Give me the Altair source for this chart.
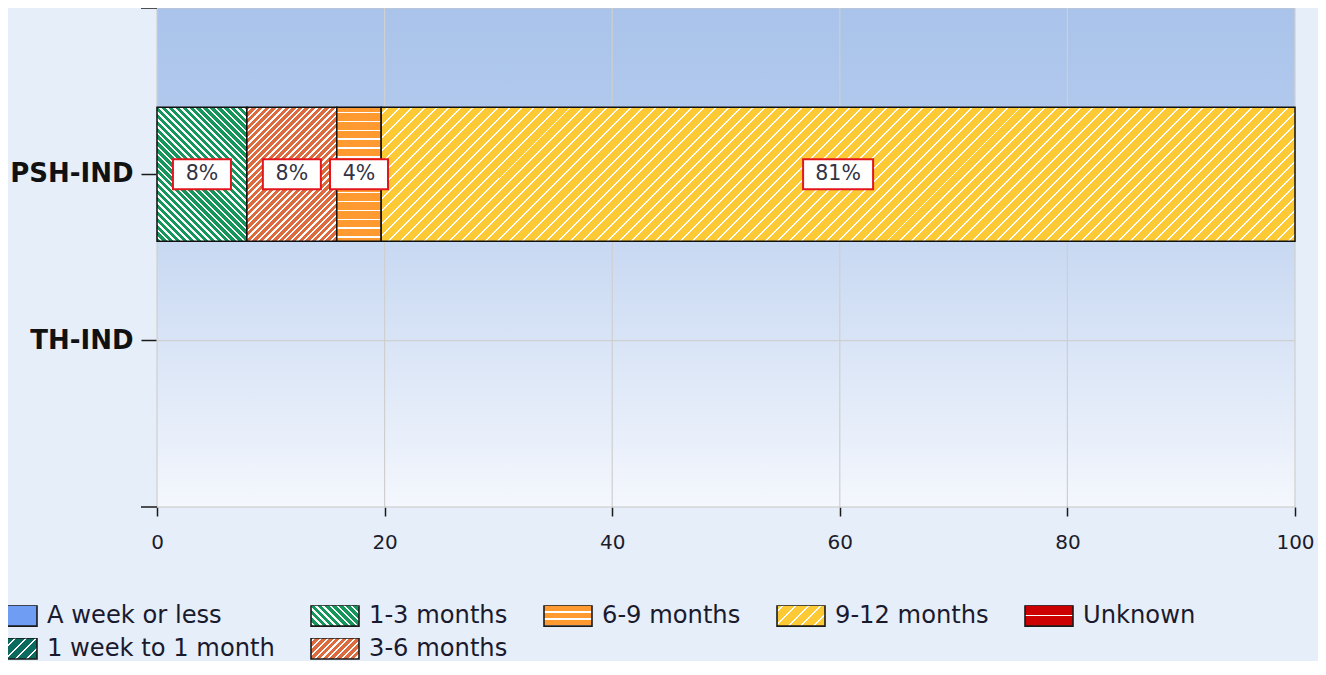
import altair as alt
import pandas as pd

# ---------------- data ----------------
categories = ["PSH-IND", "TH-IND"]
legend_order = ["A week or less", "1-3 months", "6-9 months", "9-12 months",
                "Unknown", "1 week to 1 month", "3-6 months"]
legend_colors = ["#6f9df3", "#16965a", "#ff9a30", "#fdca35",
                 "#cc0000", "#0b6b5f", "#dc6b3f"]
bar_category = ["PSH-IND", "PSH-IND", "PSH-IND", "PSH-IND"]
bar_duration = ["1-3 months", "3-6 months", "6-9 months", "9-12 months"]
bar_percent = [7.9, 7.9, 3.9, 80.3]
bar_label = ["8%", "8%", "4%", "81%"]
x_ticks = [0, 20, 40, 60, 80, 100]

# ---------------- layout / style ----------------
W, H = 1138, 499
PAD_IN, PAD_OUT = 0.194, 0.597
STEP = H / (2 - PAD_IN + 2 * PAD_OUT)
BAND = STEP * (1 - PAD_IN)
PX = W / 100.0
FONT = "DejaVu Sans"

# pattern styles: base, line colour, direction, period(px), line width(px)
BAR_PATTERN = {
    "1 week to 1 month": ("#0b6b5f", "#ffffff", "/", 7.5, 1.6),
    "1-3 months": ("#16965a", "#ffffff", "\\", 4.9, 1.8),
    "3-6 months": ("#dc6b3f", "#ffffff", "/", 4.7, 1.6),
    "6-9 months": ("#ff9a30", "#ffffff", "h", 8.9, 1.6),
    "9-12 months": ("#fdca35", "#ffffff", "/", 8.6, 1.4),
    "Unknown": ("#cc0000", "#ffffff", "h", 10.5, 1.6),
}
LEG_PATTERN = {
    "1 week to 1 month": ("#0b6b5f", "#ffffff", "/", 7.5, 1.6, 3.0),
    "1-3 months": ("#16965a", "#ffffff", "\\", 5.0, 1.6, 2.0),
    "3-6 months": ("#dc6b3f", "#ffffff", "/", 4.8, 1.5, 2.0),
    "6-9 months": ("#ff9a30", "#ffffff", "h", 7.0, 1.5, 6.0),
    "9-12 months": ("#fdca35", "#ffffff", "/", 9.0, 1.3, 4.0),
    "Unknown": ("#cc0000", "#ffffff", "h", 30.0, 1.6, 9.7),
}


def stripe_gradient(w, h, base, line, kind, period, lw, phase=None):
    if phase is None:
        phase = period / 2.0
    if kind == "h":
        x1, y1, x2, y2 = 0.5, 0, 0.5, 1
        L = h
    else:
        t = (w + h) / (w * w + h * h)
        L = (w + h) / 2 ** 0.5
        if kind == "/":
            x1, y1, x2, y2 = 0, 0, t * w, t * h
        else:
            x1, y1, x2, y2 = 0, 1, t * w, 1 - t * h
    stops = [{"offset": 0, "color": base}]
    pos = phase
    while pos < L:
        a = round(pos / L, 5)
        b = round(min((pos + lw) / L, 1), 5)
        stops += [{"offset": a, "color": base}, {"offset": a, "color": line},
                  {"offset": b, "color": line}, {"offset": b, "color": base}]
        pos += period
    stops.append({"offset": 1, "color": base})
    return {"gradient": "linear", "x1": round(x1, 5), "y1": round(y1, 5),
            "x2": round(x2, 5), "y2": round(y2, 5), "stops": stops}


def js_gradient(g):
    stops = ",".join("{offset:%s,color:'%s'}" % (s["offset"], s["color"]) for s in g["stops"])
    return "{gradient:'linear',x1:%s,y1:%s,x2:%s,y2:%s,stops:[%s]}" % (
        g["x1"], g["y1"], g["x2"], g["y2"], stops)


LW, LH = 48, 21
legend_expr = "'%s'" % legend_colors[0]
for name, col in zip(legend_order, legend_colors):
    if name in LEG_PATTERN:
        b, l, k, p, w_, ph = LEG_PATTERN[name]
        g = stripe_gradient(LW, LH, b, l, k, p, w_, ph)
        legend_expr = "datum.value === '%s' ? %s : (%s)" % (name, js_gradient(g), legend_expr)

bg_gradient = {"gradient": "linear", "x1": 0.5, "y1": 0, "x2": 0.5, "y2": 1,
               "stops": [{"offset": 0, "color": "#aac3ea"},
                         {"offset": 0.18, "color": "#b0c8ec"},
                         {"offset": 1, "color": "#f4f7fd"}]}

# ---------------- table ----------------
df = pd.DataFrame({"category": bar_category, "duration": bar_duration,
                   "pct": bar_percent, "label": bar_label})
df["x1"] = df.groupby("category")["pct"].cumsum()
df["x0"] = df["x1"] - df["pct"]
df["mid"] = (df["x0"] + df["x1"]) / 2
half = (34 + 12 * df["label"].str.len()) / 2 / PX
df["lo"] = df["mid"] - half
df["hi"] = df["mid"] + half

xs = alt.Scale(domain=[0, 100], nice=False, zero=True)
ys = alt.Scale(domain=categories, paddingInner=PAD_IN, paddingOuter=PAD_OUT)
xaxis = alt.Axis(title=None, values=x_ticks, grid=False, domain=False, tickSize=9,
                 tickColor="#1a1a1a", tickWidth=1.5, labelFont=FONT, labelFontSize=20,
                 labelColor="#1c1c2c", labelPadding=16, labelFlush=False, format="d")
yaxis = alt.Axis(title=None, grid=False, domain=False, tickSize=16, tickColor="#1a1a1a",
                 tickWidth=1.5, labelFont=FONT, labelFontSize=26, labelFontWeight="bold",
                 labelColor="#111111", labelPadding=8)

one = alt.Data(values=[{}])

bg = alt.Chart(one).mark_rect(fill=bg_gradient).encode(
    x=alt.value(0), x2=alt.value("width"), y=alt.value(0), y2=alt.value("height"))

vgrid = alt.Chart(pd.DataFrame({"x0": x_ticks})).mark_rule(
    color="#cfcfcf", strokeWidth=1.2).encode(x=alt.X("x0:Q", scale=xs, axis=xaxis))

hgrid = alt.Chart(pd.DataFrame({"category": categories})).mark_rule(
    color="#cfcfcf", strokeWidth=1.2).encode(y=alt.Y("category:N", scale=ys, axis=yaxis))

border_top = alt.Chart(one).mark_rule(color="#c8c8c8", strokeWidth=1.2).encode(
    x=alt.value(0), x2=alt.value("width"), y=alt.value(0))
border_bot = alt.Chart(one).mark_rule(color="#c8c8c8", strokeWidth=1.2).encode(
    x=alt.value(0), x2=alt.value("width"), y=alt.value("height"))
end_top = alt.Chart(one).mark_rule(color="#1a1a1a", strokeWidth=1.5).encode(
    x=alt.value(-16), x2=alt.value(0), y=alt.value(0))
end_bot = alt.Chart(one).mark_rule(color="#1a1a1a", strokeWidth=1.5).encode(
    x=alt.value(-16), x2=alt.value(0), y=alt.value("height"))

RECT_PATH = "M-1,-0.4375L1,-0.4375L1,0.4375L-1,0.4375Z"
legend = alt.Legend(
    title=None, orient="none", legendX=-169, legendY=597, columns=5,
    direction="horizontal", symbolType=RECT_PATH, clipHeight=LH,
    symbolSize=LW * LW, symbolStrokeWidth=1.6,
    symbolOpacity=1, labelFont=FONT, labelFontSize=24.2, labelColor="#1a1a2e",
    labelOffset=9, labelLimit=500, columnPadding=35, rowPadding=8)

legend_layer = alt.Chart(pd.DataFrame({"duration": legend_order})).transform_filter(
    "false").mark_point(filled=False, fill=alt.ExprRef(legend_expr),
                        strokeWidth=1.6).encode(
    color=alt.Color("duration:N", scale=alt.Scale(domain=legend_order,
                                                  range=["#1a1a1a"] * len(legend_order)),
                    legend=legend))

overlays = []
for _, r in df.iterrows():
    b, l, k, p, w_ = BAR_PATTERN[r["duration"]]
    g = stripe_gradient(r["pct"] * PX, BAND, b, l, k, p, w_)
    overlays.append(
        alt.Chart(df).transform_filter(alt.datum.duration == r["duration"])
        .mark_bar(fill=g, stroke="#111111", strokeWidth=1.5)
        .encode(x=alt.X("x0:Q", scale=xs, axis=xaxis), x2="x1:Q",
                y=alt.Y("category:N", scale=ys, axis=yaxis)))

boxes = alt.Chart(df).mark_bar(height=30, fill="#ffffff", stroke="#e3161e", strokeWidth=2).encode(
    x=alt.X("lo:Q", scale=xs, axis=xaxis), x2="hi:Q",
    y=alt.Y("category:N", scale=ys, axis=yaxis))

texts = alt.Chart(df).mark_text(font=FONT, fontSize=20.5, color="#333344").encode(
    x=alt.X("mid:Q", scale=xs, axis=xaxis),
    y=alt.Y("category:N", scale=ys, axis=yaxis), text="label:N")

chart = alt.layer(bg, vgrid, hgrid, border_top, border_bot, end_top, end_bot,
                  *overlays, boxes, texts, legend_layer).properties(
    width=W, height=H,
    autosize=alt.AutoSizeParams(type="none"),
    padding={"left": 149, "top": 0, "right": 23, "bottom": 154},
).configure(background="#e6eef9").configure_view(stroke=None)

chart.save("out.html", embed_options={"renderer": "svg", "actions": False})
